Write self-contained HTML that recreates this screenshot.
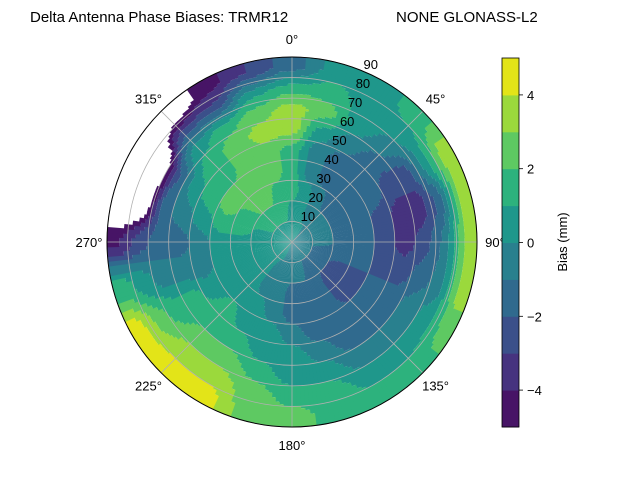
<!DOCTYPE html>
<html><head><meta charset="utf-8"><style>
body{margin:0;background:#fff}
svg{display:block;font-family:"Liberation Sans",sans-serif}
</style></head><body>
<svg id="chart" width="640" height="480" viewBox="0 0 640 480" xmlns="http://www.w3.org/2000/svg">
<rect width="640" height="480" fill="#fff"/>
<text x="30" y="22" font-size="15" fill="#000">Delta Antenna Phase Biases: TRMR12</text>
<text x="396" y="22" font-size="15" fill="#000">NONE GLONASS-L2</text>
<g id="field"></g>
<g id="grid"></g>
<g id="cbar"></g>
</svg>
<script>
const azimuths = [0,15,30,45,60,75,90,105,120,135,150,165,180,195,210,225,240,255,270,285,300,315,330,345];
const ringCenters = [5,15,25,35,45,55,65,75,85];
const biasValues = [
[0.5,0.5,1.5,1.5,1.5,3.5,3.5,1.5,-1.5],
[0.5,0.5,0.5,-0.5,-0.5,0.5,2.5,1.5,0.5],
[0.5,-0.5,-0.5,-1.5,-1.5,-0.5,0.5,0.5,0.5],
[-0.5,-0.5,-1.5,-1.5,-1.5,-1.5,-0.5,0.5,1.5],
[-0.5,-0.5,-1.5,-1.5,-1.5,-2.5,-2.5,0.5,3.5],
[-0.5,-0.5,-1.5,-1.5,-2.5,-3.5,-3.5,-1.5,3.5],
[-0.5,-0.5,-1.5,-1.5,-2.5,-3.5,-2.5,-0.5,3.5],
[-0.5,-1.5,-1.5,-1.5,-2.5,-2.5,-1.5,-0.5,3.5],
[-0.5,-1.5,-2.5,-2.5,-1.5,-1.5,-0.5,0.5,2.5],
[-0.5,-1.5,-2.5,-2.5,-1.5,-1.5,-0.5,0.5,1.5],
[-0.5,-1.5,-1.5,-1.5,-1.5,-1.5,-0.5,0.5,1.5],
[-0.5,-0.5,-1.5,-1.5,-1.5,-0.5,0.5,1.5,1.5],
[-0.5,-0.5,-1.5,-1.5,-0.5,0.5,0.5,1.5,2.5],
[-0.5,-0.5,-0.5,-0.5,0.5,0.5,1.5,2.5,2.5],
[0.5,-0.5,-0.5,0.5,0.5,1.5,2.5,3.5,4.5],
[0.5,0.5,0.5,0.5,1.5,1.5,2.5,3.5,4.5],
[0.5,0.5,0.5,0.5,0.5,1.5,1.5,2.5,4.5],
[0.5,0.5,0.5,0.5,-0.5,-0.5,-0.5,0.5,1.5],
[0.5,0.5,0.5,0.5,-0.5,-1.5,-1.5,-2.5,-4.2],
[0.5,0.5,1.5,1.5,0.5,-0.5,-1.5,-7,-9],
[0.5,1.5,1.5,2.5,1.5,0.5,-2.5,-8,-9],
[0.5,1.5,2.5,2.5,1.5,1.5,0.5,-2.5,-7],
[0.5,1.5,2.5,2.5,2.5,2.5,1.5,-2.5,-4.5],
[0.5,1.5,1.5,2.5,2.5,3.5,2.5,0.5,-3.0]
];
const levels = [-5,-4,-3,-2,-1,0,1,2,3,4,5];
const binColors = ["#471466","#46337f","#3b508a","#306a8e","#29808e","#1f978b","#2db27d","#5ec962","#9bd93c","#e3e418"];
const cbarTicks = [-4,-2,0,2,4];
const angleTicks = [0,45,90,135,180,225,270,315];
const radialTicks = [10,20,30,40,50,60,70,80,90];

const NS="http://www.w3.org/2000/svg";
const CX=292, CY=242, R=185, RMAX=90;
function rScale(r){return r/RMAX*R;}
function pt(az,r){const a=az*Math.PI/180;return [CX+rScale(r)*Math.sin(a), CY-rScale(r)*Math.cos(a)];}
function binOf(v){if(v<levels[0]||v>levels[levels.length-1])return -1;return Math.max(0,Math.min(binColors.length-1,Math.floor(v-levels[0])));}
function mk(tag,attrs,parent){const e=document.createElementNS(NS,tag);for(const k in attrs)e.setAttribute(k,attrs[k]);parent.appendChild(e);return e;}

function sm(t){return (1-Math.cos(Math.PI*t))/2;}
function sample(az,r){
  const n=azimuths.length, da=360/n;
  let fa=((az%360)+360)%360/da; const i0=Math.floor(fa)%n, i1=(i0+1)%n; const ta=sm(fa-Math.floor(fa));
  let fr=(r-ringCenters[0])/(ringCenters[1]-ringCenters[0]);
  fr=Math.max(0,Math.min(ringCenters.length-1,fr));
  const j0=Math.min(Math.floor(fr),ringCenters.length-2), tr=fr-j0, j1=j0+1;
  const v00=biasValues[i0][j0],v01=biasValues[i0][j1],v10=biasValues[i1][j0],v11=biasValues[i1][j1];
  return (v00*(1-tr)+v01*tr)*(1-ta)+(v10*(1-tr)+v11*tr)*ta;
}
const field=document.getElementById('field');
const AS=1.5, RS=1;
function sector(a0,a1,r0,r1){
  const p1=pt(a0,r1),p2=pt(a1,r1),p3=pt(a1,r0),p4=pt(a0,r0);
  const ro=rScale(r1), ri=rScale(r0);
  let d=`M${p1[0].toFixed(2)},${p1[1].toFixed(2)} A${ro},${ro} 0 0 1 ${p2[0].toFixed(2)},${p2[1].toFixed(2)} L${p3[0].toFixed(2)},${p3[1].toFixed(2)}`;
  d+= ri>0?` A${ri},${ri} 0 0 0 ${p4[0].toFixed(2)},${p4[1].toFixed(2)} Z`:` Z`;
  return d;
}
for(let a=0;a<360;a+=AS){
  let runStart=0, runBin=binOf(sample(a+AS/2,RS/2));
  for(let r=RS;r<=RMAX;r+=RS){
    const b= r<RMAX ? binOf(sample(a+AS/2,r+RS/2)) : -99;
    if(b!==runBin){
      if(runBin>=0){
        const e=mk('path',{d:sector(a-0.15,a+AS+0.15,runStart,r),fill:binColors[runBin],stroke:'none'},field);
        
        
      }
      runStart=r; runBin=b;
    }
  }
}

const grid=document.getElementById('grid');
radialTicks.forEach(r=>{
  const c=mk('circle',{cx:CX,cy:CY,r:rScale(r),fill:'none',stroke:'#b0b0b0','stroke-width':'0.8'},grid);
  
  
  const p=pt(22.5,r);
  const t=mk('text',{x:p[0]+8,y:p[1]-2,'font-size':'13','text-anchor':'middle',fill:'#000'},grid);
  t.textContent=r;
  
  
});
angleTicks.forEach(a=>{
  const p=pt(a,RMAX);
  const l=mk('line',{x1:CX,y1:CY,x2:p[0],y2:p[1],stroke:'#b0b0b0','stroke-width':'0.8'},grid);
  
  
  const rad=a*Math.PI/180, off=R+18;
  const t=mk('text',{x:CX+off*Math.sin(rad),y:CY-off*Math.cos(rad)+5,'font-size':'13','text-anchor':'middle',fill:'#000'},grid);
  t.textContent=a+'°';
  
  
});
const outer=mk('circle',{cx:CX,cy:CY,r:R,fill:'none',stroke:'#000','stroke-width':'1'},grid);



const cb=document.getElementById('cbar');
const CBX=502, CBW=17, CBT=58, CBB=427;
function cbY(v){return CBB-(v-levels[0])/(levels[levels.length-1]-levels[0])*(CBB-CBT);}
for(let i=0;i<levels.length-1;i++){
  const y0=cbY(levels[i+1]), y1=cbY(levels[i]);
  const r=mk('rect',{x:CBX,y:y0,width:CBW,height:y1-y0+0.5,fill:binColors[i]},cb);
  
  
}
mk('rect',{x:CBX,y:CBT,width:CBW,height:CBB-CBT,fill:'none',stroke:'#000','stroke-width':'0.8'},cb);
cbarTicks.forEach(v=>{
  const y=cbY(v);
  mk('line',{x1:CBX+CBW,y1:y,x2:CBX+CBW+4,y2:y,stroke:'#000','stroke-width':'0.8'},cb);
  const t=mk('text',{x:CBX+CBW+8,y:y+5,'font-size':'13',fill:'#000'},cb);
  t.textContent=(v<0?'\u2212'+(-v):v);
  
  
});
const lab=mk('text',{x:0,y:0,'font-size':'13','text-anchor':'middle',fill:'#000',transform:'translate(567,242) rotate(-90)'},cb);
lab.textContent='Bias (mm)';


</script>
</body></html>
